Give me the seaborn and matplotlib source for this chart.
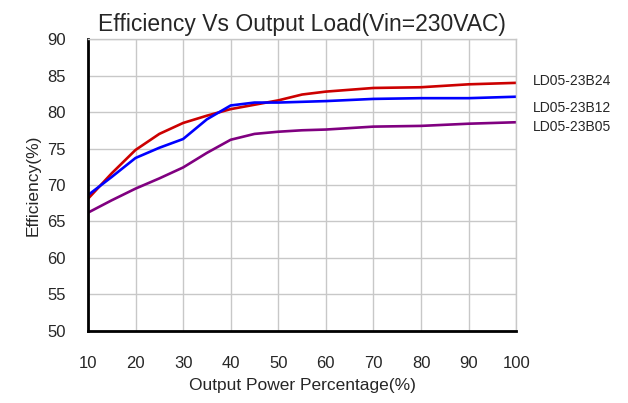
import numpy as np
import pandas as pd
import seaborn as sns
import matplotlib.pyplot as plt
from matplotlib.transforms import blended_transform_factory

# values
load = [10, 15, 20, 25, 30, 35, 40, 45, 50, 55, 60, 70, 80, 90, 100]
eff_b24 = [68.1, 71.6, 74.8, 77.0, 78.5, 79.5, 80.4, 81.0, 81.6, 82.4, 82.8, 83.3, 83.4, 83.8, 84.0]
eff_b12 = [68.6, 71.1, 73.7, 75.1, 76.3, 79.0, 80.9, 81.3, 81.3, 81.4, 81.5, 81.8, 81.9, 81.9, 82.1]
eff_b05 = [66.2, 67.9, 69.5, 70.9, 72.4, 74.4, 76.2, 77.0, 77.3, 77.5, 77.6, 78.0, 78.1, 78.4, 78.6]
models = ["LD05-23B24", "LD05-23B12", "LD05-23B05"]
colors = ["#cc0000", "#0000ff", "#800080"]
label_y = [84.2, 80.6, 78.0]

x_ticks = [10, 20, 30, 40, 50, 60, 70, 80, 90, 100]
y_ticks = [50, 55, 60, 65, 70, 75, 80, 85, 90]

df = pd.DataFrame({
    "load": load * 3,
    "eff": eff_b24 + eff_b12 + eff_b05,
    "model": [m for m in models for _ in load],
})

sns.set_style("white")
plt.rcParams['font.family'] = ['Liberation Sans', 'DejaVu Sans']

fig = plt.figure(figsize=(6.28, 4.03), dpi=100)
ax = fig.add_axes([0.140, 0.179, 0.682, 0.724])

sns.lineplot(data=df, x="load", y="eff", hue="model", palette=colors,
             linewidth=1.9, legend=False, ax=ax)

ax.set_xlim(10, 100)
ax.set_ylim(50, 90)
ax.set_xticks(x_ticks)
ax.set_yticks(y_ticks)
ax.grid(True, color="#c8c8c8", linewidth=1)
ax.set_axisbelow(True)

for side in ["top", "right"]:
    ax.spines[side].set_color("#c8c8c8")
    ax.spines[side].set_linewidth(1)
for side in ["left", "bottom"]:
    ax.spines[side].set_color("black")
    ax.spines[side].set_linewidth(2)

ax.tick_params(axis="both", direction="in", length=5, width=1, color="black",
               labelsize=12, pad=16)
ax.tick_params(axis="x", pad=18)

ax.set_xlabel("Output Power Percentage(%)", fontsize=12.5, labelpad=5)
ax.set_ylabel("Efficiency(%)", fontsize=12.5, labelpad=5)
ax.set_title("Efficiency Vs Output Load(Vin=230VAC)", fontsize=16.5, pad=6)

trans = blended_transform_factory(ax.transAxes, ax.transData)
for name, y in zip(models, label_y):
    ax.text(1.04, y, name, transform=trans, fontsize=10, va="center", ha="left",
            clip_on=False)

plt.savefig("out.png", dpi=100)
